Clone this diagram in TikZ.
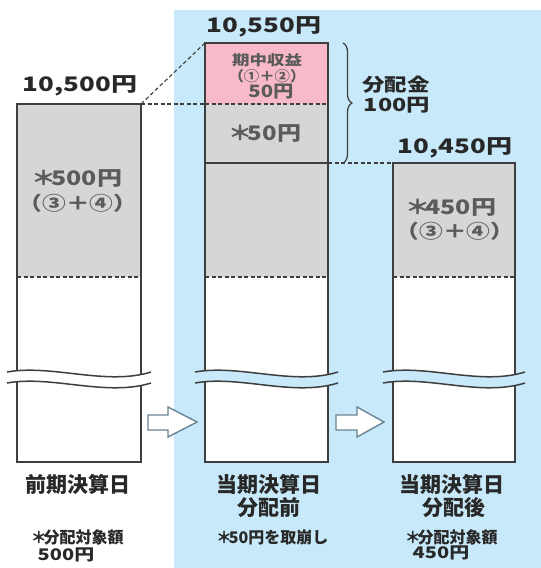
\documentclass[tikz,border=0pt]{standalone}
\usepackage{fontspec}
\usepackage{graphicx}
\newfontfamily\jp{Noto Sans CJK JP}
\usetikzlibrary{decorations.pathreplacing}

\definecolor{bgblue}{RGB}{200,233,249}
\definecolor{pinkfill}{RGB}{248,186,200}
\definecolor{grayfill}{RGB}{214,214,217}
\definecolor{linegray}{RGB}{62,62,62}
\definecolor{arrowgray}{RGB}{105,132,146}
\definecolor{textgray}{RGB}{40,40,40}

\newcommand\wide[2][1.3]{\scalebox{#1}[1]{#2}}
\newcommand\starmark{\kern-0.1em＊\kern-0.2em}

\tikzset{
  colbox/.style={draw=linegray, line width=1.5pt},
  divider/.style={draw=linegray, line width=1.2pt, dash pattern=on 4pt off 2.5pt},
  guide/.style={draw=linegray, line width=1.1pt, dash pattern=on 4pt off 2.5pt},
  wave/.style={draw=linegray, line width=1.5pt},
  blockarrow/.style={draw=arrowgray, fill=white, line width=1.4pt, line join=miter},
  numlbl/.style={font=\jp\bfseries\fontsize{20}{22}\selectfont, text=textgray, inner sep=0pt},
  boxlbl/.style={font=\jp\bfseries\fontsize{20}{22}\selectfont, text=linegray!85!white, inner sep=0pt},
  daylbl/.style={font=\jp\bfseries\fontsize{21}{24}\selectfont, text=textgray, inner sep=0pt},
  notelbl/.style={font=\jp\bfseries\fontsize{16}{18}\selectfont, text=textgray, inner sep=0pt}
}

\begin{document}
\begin{tikzpicture}[x=1pt,y=-1pt]
    \useasboundingbox (0,0) rectangle (541,568);
    % Background of the current period
    \fill[bgblue] (174,10) rectangle (541,568);

    % Corners of the three columns
    \coordinate (prevTL) at (17,104);  \coordinate (prevTR) at (141,104);
    \coordinate (curTL)  at (205,43);  \coordinate (curTR)  at (328,43);
    \coordinate (curML)  at (205,104); \coordinate (curMR)  at (328,104);
    \coordinate (curBL)  at (205,163); \coordinate (curBR)  at (328,163);
    \coordinate (nextTL) at (393,163); \coordinate (nextTR) at (515,163);

    % Column fills
    \fill[white]    (17,104) rectangle (141,462);
    \fill[grayfill] (17,104) rectangle (141,277);
    \fill[white]    (205,43) rectangle (328,462);
    \fill[pinkfill] (205,43) rectangle (328,104);
    \fill[grayfill] (205,104) rectangle (328,277);
    \fill[white]    (393,163) rectangle (515,462);
    \fill[grayfill] (393,163) rectangle (515,277);

    % Dashed dividers inside the columns
    \draw[divider] (17,277) -- (141,277);
    \draw[divider] (205,277) -- (328,277);
    \draw[divider] (393,277) -- (515,277);
    \draw[colbox] (curBL) -- (curBR);

    % Column outlines
    \draw[colbox] (17,104) rectangle (141,462);
    \draw[colbox] (205,43) rectangle (328,462);
    \draw[colbox] (393,163) rectangle (515,462);

    % Breaks
    \foreach \xl/\xr/\bg in {17/141/white, 205/328/bgblue, 393/515/bgblue}
    {
      \fill[\bg] ({\xl-10},372) .. controls ({\xl+35},364) and ({\xr-35},386) .. ({\xr+10},372)
        -- ({\xr+10},383) .. controls ({\xr-35},397) and ({\xl+35},375) .. ({\xl-10},383) -- cycle;
      \draw[wave] ({\xl-10},372) .. controls ({\xl+35},364) and ({\xr-35},386) .. ({\xr+10},372);
      \draw[wave] ({\xl-10},383) .. controls ({\xl+35},375) and ({\xr-35},397) .. ({\xr+10},383);
    };

    % Guides between the columns
    \draw[guide] (prevTR) -- (curTL);
    \draw[guide] (prevTR) -- (curML);
    \draw[guide] (curML) -- (curMR);
    \draw[guide] (curBR) -- (nextTL);
    \draw[linegray, line width=1.2pt, decorate, decoration={brace, amplitude=9pt}]
      (343,43) -- (343,163) coordinate (braceend);

    % Block arrows
    \foreach \ax/\hx/\tx in {148/168/197, 336/357/384}
    {
      \draw[blockarrow] (\ax,415) -- (\hx,415) -- (\hx,407) -- (\tx,422)
        -- (\hx,437) -- (\hx,430) -- (\ax,430) -- cycle;
    };

    % Amounts above the columns
    \node[numlbl] (prevamt) at (80,86)  {\wide{10,500円}};
    \node[numlbl] (curamt)  at (264,27) {\wide{10,550円}};
    \node[numlbl] (nextamt) at (455,148) {\wide{10,450円}};

    % Texts inside the columns
    \node[boxlbl] (prevbase) at (78,179) {\wide[1.25]{\starmark500円}};
    \node[boxlbl, font=\jp\bfseries\fontsize{19}{21}\selectfont] (prevsrc) at (78,203) {\wide[1.25]{（③＋④）}};
    \node[boxlbl, font=\jp\bfseries\fontsize{14}{16}\selectfont] (income) at (267,60) {\wide[1.25]{期中収益}};
    \node[boxlbl, font=\jp\bfseries\fontsize{14}{16}\selectfont] (incsrc) at (267,76) {\wide[1.1]{（①＋②）}};
    \node[boxlbl, font=\jp\bfseries\fontsize{17}{19}\selectfont] (incamt) at (271,92) {\wide[1.2]{50円}};
    \node[boxlbl] (drawn) at (266,134) {\wide[1.2]{\starmark50円}};
    \node[boxlbl] (nextbase) at (452,208) {\wide[1.25]{\starmark450円}};
    \node[boxlbl, font=\jp\bfseries\fontsize{19}{21}\selectfont] (nextsrc) at (455,231) {\wide[1.25]{（③＋④）}};

    % Distribution
    \node[numlbl, font=\jp\bfseries\fontsize{18}{20}\selectfont] (dist) at (396,85) {\wide[1.25]{分配金}};
    \node[numlbl, font=\jp\bfseries\fontsize{18}{20}\selectfont] (distamt) at (397,105) {\wide[1.3]{100円}};

    % Day labels
    \node[daylbl] (prevday) at (78,484) {前期決算日};
    \node[daylbl] (curday)  at (269,484) {当期決算日};
    \node[daylbl] (curstep) at (269,508) {分配前};
    \node[daylbl] (nextday) at (452,484) {当期決算日};
    \node[daylbl] (nextstep) at (454,508) {分配後};

    % Notes
    \node[notelbl] (prevnote) at (78,537) {\starmark 分配対象額};
    \node[notelbl] (prevnoteamt) at (66,555) {\wide[1.25]{500円}};
    \node[notelbl] (curnote) at (273,537) {\starmark 50円を取崩し};
    \node[notelbl] (nextnote) at (452,537) {\starmark 分配対象額};
    \node[notelbl] (nextnoteamt) at (441,553) {\wide[1.25]{450円}};
\end{tikzpicture}
\end{document}
